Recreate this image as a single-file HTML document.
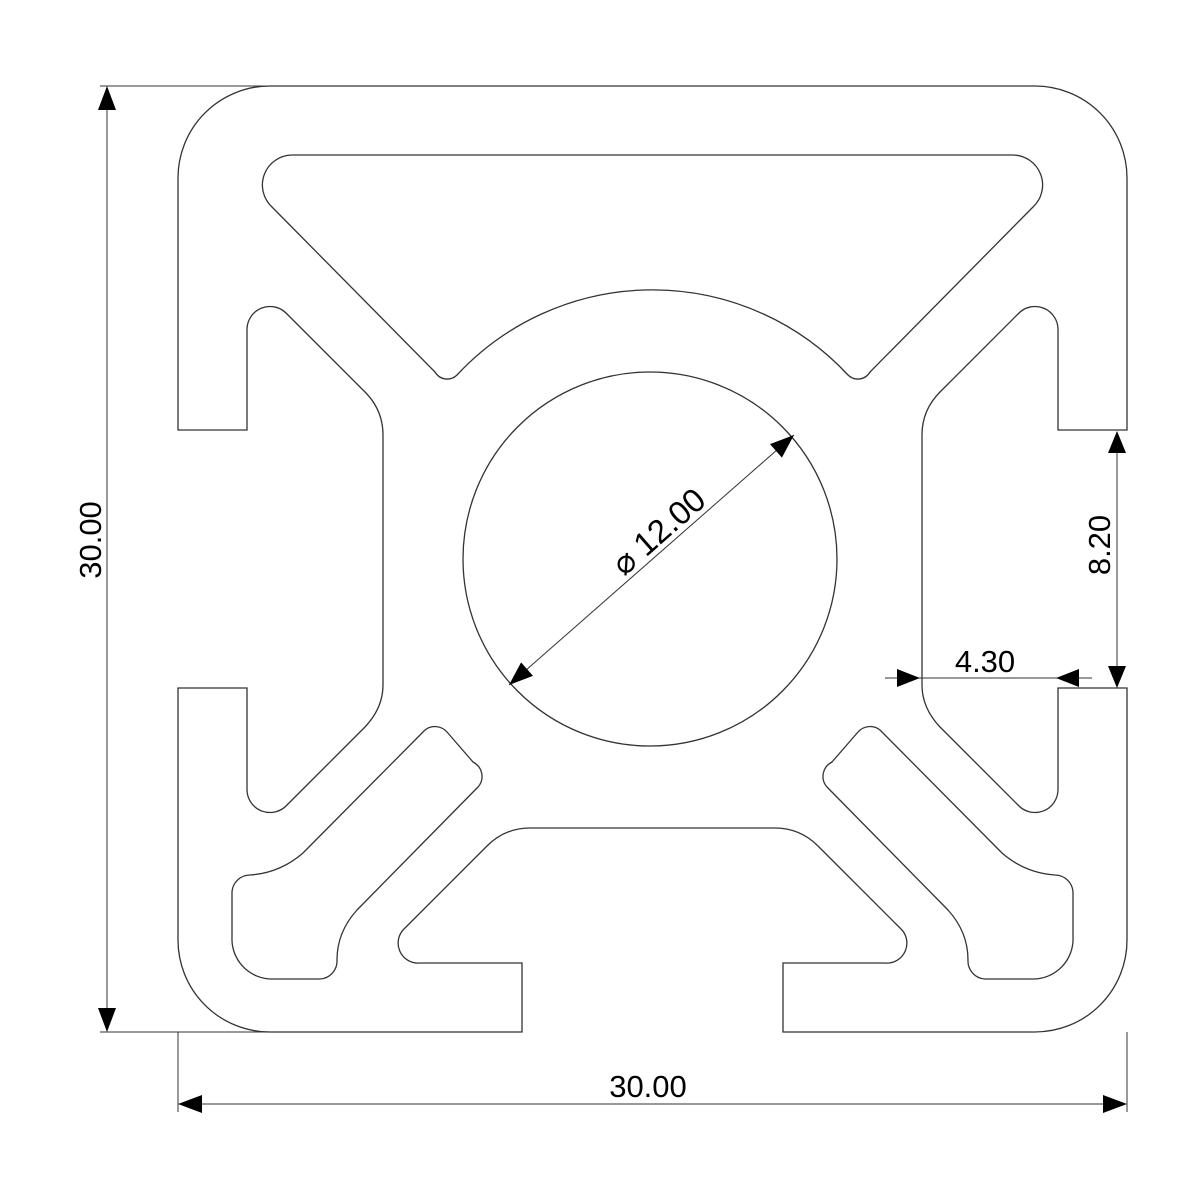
<!DOCTYPE html>
<html><head><meta charset="utf-8"><style>html,body{margin:0;padding:0;background:#fff}svg{display:block}</style></head>
<body>
<svg width="1200" height="1200" viewBox="0 0 1200 1200" xmlns="http://www.w3.org/2000/svg">
<g fill="none" stroke="#333" stroke-width="1.3">
<path d="M178,178 A92,92 0 0 1 270,86 L1035,86 A92,92 0 0 1 1127,178 L1127,430 L1058,430 L1058,330 A23,23 0 0 0 1018,314 L940,392 Q922,410 922,435 L922,685 Q922,708 940,727 L1018,805 A23,23 0 0 0 1058,790 L1058,688 L1127,688 L1127,940 A92,92 0 0 1 1035,1032 L783,1032 L783,963 L885,963 A20,20 0 0 0 900,928 L818,846 Q800,828 775,828 L530,828 Q505,828 487,846 L405,928 A20,20 0 0 0 420,963 L522,963 L522,1032 L270,1032 A92,92 0 0 1 178,940 L178,688 L247,688 L247,790 A23,23 0 0 0 287,805 L365,727 Q383,708 383,685 L383,435 Q383,410 365,392 L287,314 A23,23 0 0 0 247,330 L247,430 L178,430 Z"/>
<path d="M292,155 L1013,155 A30,30 0 0 1 1033,207 L870,372 A14,14 0 0 1 848,375 A267,267 0 0 0 457,375 A14,14 0 0 1 435,372 L272,207 A30,30 0 0 1 292,155 Z"/>
<path d="M250,875 Q280,873 303,853 L425,730 A16,16 0 0 1 447,732 L473,762 A16,16 0 0 1 478,787 L357,910 Q337,932 337,960 A18,18 0 0 1 320,979 L272,979 A40,40 0 0 1 232,937 L232,893 A18,18 0 0 1 250,875 Z"/>
<path d="M1055,875 Q1025,873 1002,853 L880,730 A16,16 0 0 0 858,732 L832,762 A16,16 0 0 0 827,787 L948,910 Q968,932 968,960 A18,18 0 0 0 985,979 L1033,979 A40,40 0 0 0 1073,937 L1073,893 A18,18 0 0 0 1055,875 Z"/>
<circle cx="650" cy="559" r="187"/>
</g>
<g stroke="#333" stroke-width="1" fill="none">
<line x1="100" y1="86" x2="270" y2="86"/>
<line x1="100" y1="1032" x2="270" y2="1032"/>
<line x1="107" y1="90" x2="107" y2="1028"/>
<line x1="178" y1="1032" x2="178" y2="1112"/>
<line x1="1127" y1="1032" x2="1127" y2="1112"/>
<line x1="182" y1="1104" x2="1123" y2="1104"/>
<line x1="1117" y1="434" x2="1117" y2="686"/>
<line x1="885" y1="678" x2="1092" y2="678"/>
<line x1="794" y1="435" x2="509" y2="685"/>
</g>
<g fill="#000">
<polygon points="107,86 98,110 116,110"/>
<polygon points="107,1032 98,1008 116,1008"/>
<polygon points="178,1104 202,1095 202,1113"/>
<polygon points="1127,1104 1103,1095 1103,1113"/>
<polygon points="1117,431 1108,453 1126,453"/>
<polygon points="1117,688 1108,666 1126,666"/>
<polygon points="920,678 897,669 897,687"/>
<polygon points="1056,678 1079,669 1079,687"/>
<g transform="translate(794,435) rotate(138.7)"><polygon points="0,0 24,-9 24,9"/></g>
<g transform="translate(509,685) rotate(-41.3)"><polygon points="0,0 24,-9 24,9"/></g>
</g>
<g font-family="'Liberation Sans', sans-serif" font-size="31" fill="#000" text-anchor="middle">
<text x="0" y="0" transform="translate(101,540) rotate(-90)">30.00</text>
<text x="648" y="1097">30.00</text>
<text x="985" y="672">4.30</text>
<text x="0" y="0" transform="translate(1110,545) rotate(-90)">8.20</text>
<text x="0" y="0" font-size="33" transform="translate(666,540) rotate(-41.3)">⌀ 12.00</text>
</g>
</svg>
</body></html>
